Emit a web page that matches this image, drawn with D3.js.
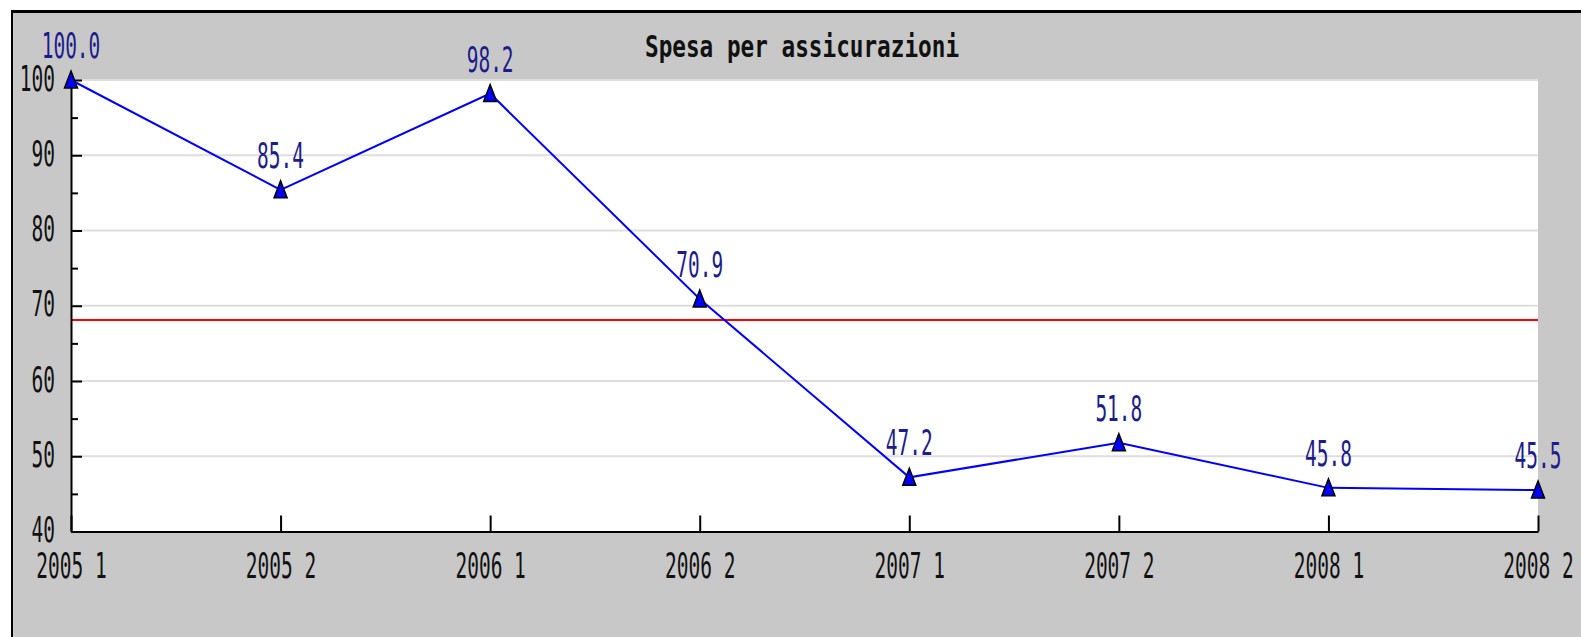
<!DOCTYPE html>
<html>
<head>
<meta charset="utf-8">
<script src="https://cdn.jsdelivr.net/npm/d3@7"></script>
<style>
  body { margin: 0; background: #fff; }
  text { font-family: "DejaVu Sans Mono", monospace; }
</style>
</head>
<body>
<div id="chart-container"></div>
<script>
'use strict'

var chartTitle = 'Spesa per assicurazioni'
var periods = ['2005 1', '2005 2', '2006 1', '2006 2', '2007 1', '2007 2', '2008 1', '2008 2']
var spesa = [100.0, 85.4, 98.2, 70.9, 47.2, 51.8, 45.8, 45.5]
var mediaSpesa = 68.1
var yMajorTicks = [40, 50, 60, 70, 80, 90, 100]
var yMinorTicks = [45, 55, 65, 75, 85, 95]
var yGridValues = [50, 60, 70, 80, 90, 100]

var drawChart = function() {
    let W = 1581, H = 637
    let plot = { left: 71, right: 1538, top: 80, bottom: 531.5 }

    var svg = d3.select('#chart-container')
        .append('svg')
            .attr('width', W)
            .attr('height', H)

    // frame: black top/left border, gray fill
    svg.append('rect').attr('x', 11).attr('y', 10).attr('width', W).attr('height', H).style('fill', '#000')
    svg.append('rect').attr('x', 13).attr('y', 13).attr('width', W).attr('height', H).style('fill', '#c8c8c8')

    let x = d3.scalePoint()
        .domain(periods)
        .range([plot.left, plot.right])

    let y = d3.scaleLinear()
        .domain([40, 100])
        .range([plot.bottom, plot.top])

    svg.append('rect')
        .attr('x', plot.left).attr('y', plot.top)
        .attr('width', plot.right - plot.left).attr('height', plot.bottom - plot.top)
        .style('fill', '#fff')

    // grid lines
    svg.selectAll('.grid').data(yGridValues)
        .enter().append('line')
        .attr('class', 'grid')
        .attr('x1', plot.left).attr('x2', plot.right)
        .attr('y1', d => y(d)).attr('y2', d => y(d))
        .style('stroke', '#dedede')
        .style('stroke-width', 2)

    // average line
    svg.append('line')
        .attr('x1', plot.left).attr('x2', plot.right)
        .attr('y1', y(mediaSpesa)).attr('y2', y(mediaSpesa))
        .style('stroke', '#ff0000')
        .style('stroke-width', 2)

    // y axis, minor ticks first
    svg.append('g')
        .attr('transform', 'translate(' + plot.left + ',0)')
        .call(d3.axisRight(y).tickValues(yMinorTicks).tickSize(7).tickFormat(''))
        .call(g => g.select('.domain').remove())
        .selectAll('line').style('stroke', '#000').style('stroke-width', 2)

    let yAxis = svg.append('g')
        .attr('transform', 'translate(' + plot.left + ',0)')
        .call(d3.axisRight(y).tickValues(yMajorTicks).tickSize(11).tickSizeOuter(0))
    yAxis.select('.domain').style('stroke', '#000').style('stroke-width', 2)
    yAxis.selectAll('line').style('stroke', '#000').style('stroke-width', 2)
    yAxis.selectAll('text')
        .attr('x', null).attr('dy', null)
        .attr('transform', 'translate(-16,10) scale(1,1.8)')
        .style('text-anchor', 'end')
        .style('font-size', '19.5px')
        .style('fill', '#111')

    // x axis
    let xAxis = svg.append('g')
        .attr('transform', 'translate(0,' + plot.bottom + ')')
        .call(d3.axisTop(x).tickSize(16).tickSizeOuter(0))
    xAxis.select('.domain').style('stroke', '#000').style('stroke-width', 2)
    xAxis.selectAll('line').style('stroke', '#000').style('stroke-width', 2)
    xAxis.selectAll('text')
        .attr('y', null).attr('dy', null)
        .attr('transform', 'translate(0,46.5) scale(1,1.8)')
        .style('text-anchor', 'middle')
        .style('font-size', '19.5px')
        .style('fill', '#111')

    // series line
    let line = d3.line()
        .x((d, i) => x(periods[i]))
        .y(d => y(d))

    svg.append('path')
        .datum(spesa)
        .attr('d', line)
        .style('fill', 'none')
        .style('stroke', '#0000ff')
        .style('stroke-width', 2)

    // triangle markers
    svg.selectAll('.point').data(spesa)
        .enter().append('path')
        .attr('class', 'point')
        .attr('transform', (d, i) => 'translate(' + x(periods[i]) + ',' + y(d) + ')')
        .attr('d', 'M0,-9L6.5,8L-6.5,8Z')
        .style('fill', '#0000ff')
        .style('stroke', '#000')
        .style('stroke-width', 1.5)

    // value labels
    svg.selectAll('.valueLabel').data(spesa)
        .enter().append('text')
        .attr('class', 'valueLabel')
        .attr('transform', (d, i) => 'translate(' + x(periods[i]) + ',' + (y(d) - 22) + ') scale(1,1.8)')
        .style('text-anchor', 'middle')
        .style('font-size', '19.5px')
        .style('fill', '#1c1c8c')
        .text(d => d.toFixed(1))

    // title
    svg.append('text')
        .attr('transform', 'translate(802,57) scale(1,1.33)')
        .style('text-anchor', 'middle')
        .style('font-size', '22.7px')
        .style('font-weight', 'bold')
        .style('fill', '#111')
        .text(chartTitle)
}

drawChart()
</script>
</body>
</html>
